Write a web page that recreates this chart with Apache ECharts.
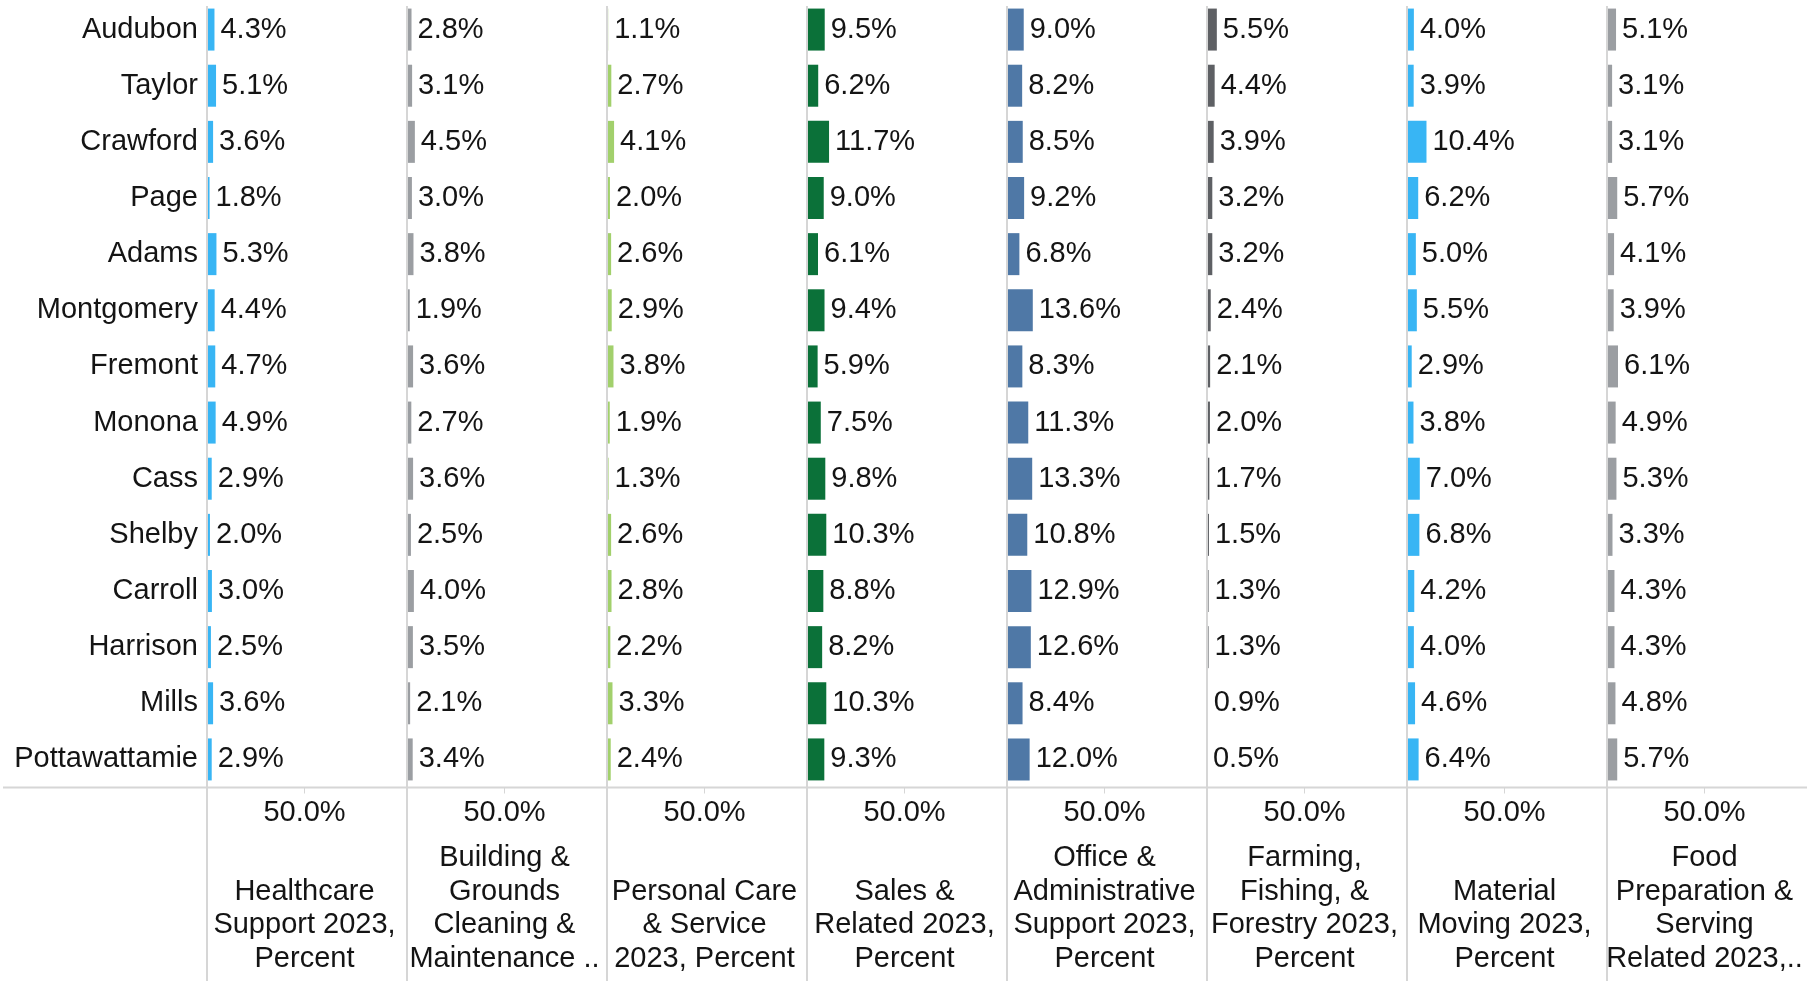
<!DOCTYPE html>
<html><head><meta charset="utf-8">
<script src="https://cdn.jsdelivr.net/npm/echarts@6/dist/echarts.min.js"></script>
<style>html,body{margin:0;padding:0;background:#fff}#c{width:1813px;height:981px}</style>
</head><body><div id="c"></div>
<script>
const counties = ['Audubon','Taylor','Crawford','Page','Adams','Montgomery','Fremont','Monona','Cass','Shelby','Carroll','Harrison','Mills','Pottawattamie'];
const panelTitles = [
  'Healthcare\nSupport 2023,\nPercent',
  'Building &\nGrounds\nCleaning &\nMaintenance ..',
  'Personal Care\n& Service\n2023, Percent',
  'Sales &\nRelated 2023,\nPercent',
  'Office &\nAdministrative\nSupport 2023,\nPercent',
  'Farming,\nFishing, &\nForestry 2023,\nPercent',
  'Material\nMoving 2023,\nPercent',
  'Food\nPreparation &\nServing\nRelated 2023,..'
];
const healthcare = [4.3,5.1,3.6,1.8,5.3,4.4,4.7,4.9,2.9,2.0,3.0,2.5,3.6,2.9];
const building   = [2.8,3.1,4.5,3.0,3.8,1.9,3.6,2.7,3.6,2.5,4.0,3.5,2.1,3.4];
const personal   = [1.1,2.7,4.1,2.0,2.6,2.9,3.8,1.9,1.3,2.6,2.8,2.2,3.3,2.4];
const sales      = [9.5,6.2,11.7,9.0,6.1,9.4,5.9,7.5,9.8,10.3,8.8,8.2,10.3,9.3];
const office     = [9.0,8.2,8.5,9.2,6.8,13.6,8.3,11.3,13.3,10.8,12.9,12.6,8.4,12.0];
const farming    = [5.5,4.4,3.9,3.2,3.2,2.4,2.1,2.0,1.7,1.5,1.3,1.3,0.9,0.5];
const material   = [4.0,3.9,10.4,6.2,5.0,5.5,2.9,3.8,7.0,6.8,4.2,4.0,4.6,6.4];
const food       = [5.1,3.1,3.1,5.7,4.1,3.9,6.1,4.9,5.3,3.3,4.3,4.3,4.8,5.7];
const axisTickValues = [50];
const axisMax = 100;

const seriesData = [healthcare, building, personal, sales, office, farming, material, food];
const colors = ['#38b5f4','#9b9ea2','#a2d06c','#0b7139','#4f78a6','#5e6064','#38b5f4','#9b9ea2'];

const FONT = "'Liberation Sans', Arial, sans-serif";
const FS = 29;
const TXT = '#141414';
const LINE = '#d6d6d6';
const panelLeft0 = 206, panelStep = 200, panelW = 197, plotTop = 1.5, plotH = 786;

const grids = [], xAxes = [], yAxes = [], series = [];
seriesData.forEach((vals, i) => {
  grids.push({left: panelLeft0 + panelStep * i, top: plotTop, width: panelW, height: plotH});
  xAxes.push({
    type: 'value', gridIndex: i, min: 0, max: axisMax,
    splitLine: {show: false},
    axisLine: {show: false},
    axisTick: {show: true, customValues: axisTickValues, length: 6, lineStyle: {color: LINE, width: 1}},
    axisLabel: {show: true, customValues: axisTickValues, margin: 11, fontSize: FS, fontFamily: FONT, color: TXT,
      formatter: v => v.toFixed(1) + '%'},
    name: panelTitles[i], nameLocation: 'middle', nameGap: 188,
    nameTextStyle: {fontSize: FS, fontFamily: FONT, color: TXT, lineHeight: 33.5, verticalAlign: 'bottom', align: 'center'}
  });
  yAxes.push({
    type: 'category', gridIndex: i, data: counties, inverse: true,
    axisLine: {show: false}, axisTick: {show: false}, splitLine: {show: false},
    axisLabel: {show: i === 0, fontSize: FS, fontFamily: FONT, color: TXT, margin: 8}
  });
  series.push({
    type: 'bar', xAxisIndex: i, yAxisIndex: i, data: vals, barWidth: 42,
    itemStyle: {color: colors[i]},
    label: {show: true, position: 'right', distance: 6, fontSize: FS, fontFamily: FONT, color: TXT,
      formatter: p => p.value.toFixed(1) + '%'},
    silent: true, animation: false
  });
});

const graphics = [];
for (let i = 0; i < 8; i++) {
  const x = 207 + panelStep * i;
  graphics.push({type: 'line', z: 100, shape: {x1: x, y1: 6, x2: x, y2: 981}, style: {stroke: LINE, lineWidth: 2}});
}
graphics.push({type: 'line', z: 100, shape: {x1: 3, y1: 787.5, x2: 1807, y2: 787.5}, style: {stroke: LINE, lineWidth: 2}});

const chart = echarts.init(document.getElementById('c'), null, {renderer: 'canvas'});
chart.setOption({
  backgroundColor: '#fff',
  animation: false,
  grid: grids, xAxis: xAxes, yAxis: yAxes, series: series,
  graphic: graphics
});
</script></body></html>
